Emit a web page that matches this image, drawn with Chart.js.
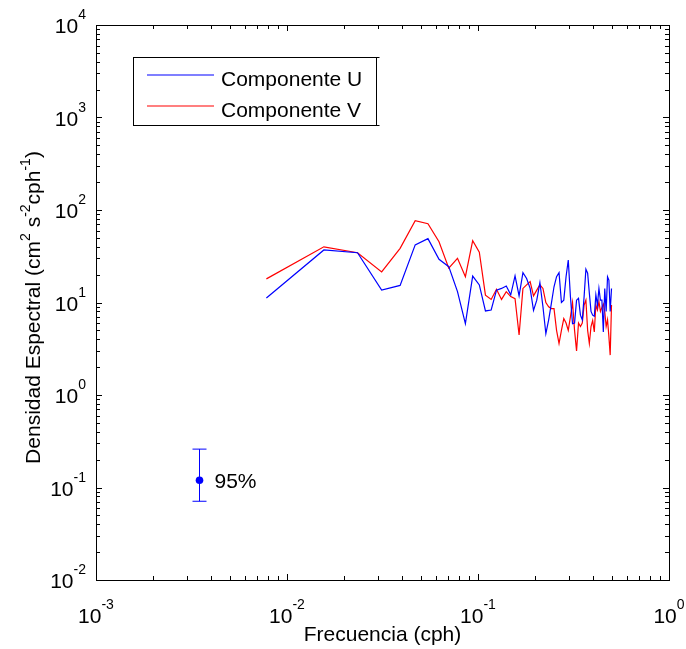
<!DOCTYPE html>
<html>
<head>
<meta charset="utf-8">
<script src="https://cdn.jsdelivr.net/npm/chart.js@4.4.0/dist/chart.umd.min.js"></script>
<style>
  body { margin: 0; background: #fff; }
  #wrap { width: 686px; height: 649px; }
</style>
</head>
<body>
<div id="wrap"><canvas id="spectrum"></canvas></div>
<script>
// frequencies (cph) and spectral density
const freq = [0.0078, 0.0156, 0.0234, 0.0313, 0.0391, 0.0469, 0.0547, 0.0625, 0.0703, 0.0781,
              0.0859, 0.0938, 0.1016, 0.1094, 0.1172, 0.125, 0.1328, 0.1406, 0.1484, 0.1563,
              0.1641, 0.1719, 0.1797, 0.1875, 0.1953, 0.2031, 0.2109, 0.2188, 0.2266, 0.2344,
              0.2422, 0.25, 0.2578, 0.2656, 0.2734, 0.2813, 0.2891, 0.2969, 0.3047, 0.3125,
              0.3203, 0.3281, 0.3359, 0.3438, 0.3516, 0.3594, 0.3672, 0.375, 0.3828, 0.3906,
              0.3984, 0.4063, 0.4141, 0.4219, 0.4297, 0.4375, 0.4453, 0.4531, 0.4609, 0.4688,
              0.4766, 0.4844, 0.4922, 0.5];
const compU = [11.2, 37, 34.5, 13.6, 15.3, 42, 49, 29.3, 24.4, 13.1,
               5.9, 19.3, 15.5, 8.1, 8.3, 13.6, 14.2, 15.1, 12.1, 19.4,
               11.8, 21, 18.2, 14.2, 8.2, 10.6, 16.4, 9.0, 4.6, 6.5,
               9.8, 14.8, 19, 21, 10, 10.6, 19, 28.8, 11.6, 5.9,
               6.0, 10.6, 11.1, 7.3, 6.5, 11.6, 22.9, 20.7, 12.6, 8.0,
               7.3, 7.1, 12.1, 9.4, 14.2, 10.6, 10.6, 4.8, 14.2, 8.0,
               19, 17.5, 8.0, 14.2];
const compV = [18, 40, 34.5, 21.4, 38.5, 76.5, 71, 45.4, 23.5, 30,
               19, 46.6, 34.9, 12, 10.8, 13.9, 10.8, 13.1, 11.6, 11,
               4.45, 14.2, 15.5, 16.8, 11.8, 13.6, 15.5, 14.2, 10, 9.0,
               8.6, 8.6, 5.0, 3.6, 5.0, 6.7, 6.0, 5.0, 7.0, 10,
               5.0, 3.0, 6.0, 5.5, 6, 9.4, 10.6, 5.0, 3.6, 5.5,
               6.4, 4.8, 9.4, 8.3, 10.2, 8.0, 8.8, 9.6, 8.0, 5.5,
               6.5, 4.3, 2.7, 9.4];

// 95% confidence bar
const ciFreq = [0.00347];
const ciMid = [0.12];
const ciLow = [0.071];
const ciHigh = [0.26];
const ciLabel = '95%';

const xDecades = [-3, -2, -1, 0];
const yDecades = [-2, -1, 0, 1, 2, 3, 4];
const seriesNames = ['Componente U', 'Componente V'];
const xTitle = 'Frecuencia (cph)';
const yTitle = [['Densidad Espectral (cm', 0], ['2', 1], [' s', 0], ['-2', 1], ['cph', 0], ['-1', 1], [')', 0]];

const FONT = 'Arial, "Liberation Sans", sans-serif';
const BLUE = '#0000ff';
const RED = '#ff0000';

function pts(ys) {
    return freq.map(function(f, i) { return {x: f, y: ys[i]}; });
}

// "10" with a raised exponent
function drawPower(ctx, exp, x, y, align) {
    ctx.font = '21px ' + FONT;
    const wb = ctx.measureText('10').width;
    ctx.font = '14px ' + FONT;
    const we = ctx.measureText(String(exp)).width;
    const x0 = align === 'right' ? x - wb - we : x - (wb + we) / 2;
    ctx.textAlign = 'left';
    ctx.textBaseline = 'alphabetic';
    ctx.font = '21px ' + FONT;
    ctx.fillText('10', x0, y);
    ctx.font = '14px ' + FONT;
    ctx.fillText(String(exp), x0 + wb, y - 14);
}

// text with superscript parts, centred on x
function drawRich(ctx, parts, x, y) {
    let w = 0;
    parts.forEach(function(p) {
        ctx.font = (p[1] ? '14px ' : '21px ') + FONT;
        w += ctx.measureText(p[0]).width;
    });
    let cx = x - w / 2;
    ctx.textAlign = 'left';
    ctx.textBaseline = 'alphabetic';
    parts.forEach(function(p) {
        ctx.font = (p[1] ? '14px ' : '21px ') + FONT;
        ctx.fillText(p[0], cx, p[1] ? y - 10 : y);
        cx += ctx.measureText(p[0]).width;
    });
}

const matlabAxes = {
    id: 'matlabAxes',
    afterDatasetsDraw(chart) {
        const ctx = chart.ctx, a = chart.chartArea;
        const xs = chart.scales.x, ys = chart.scales.y;
        ctx.save();
        ctx.strokeStyle = '#000';
        ctx.fillStyle = '#000';
        ctx.lineWidth = 1;

        // inward ticks on all four sides
        ctx.beginPath();
        xDecades.forEach(function(d) {
            for (let m = 1; m < 10; m++) {
                if (d === 0 && m > 1) break;
                const px = Math.round(xs.getPixelForValue(m * Math.pow(10, d))) + 0.5;
                const len = m === 1 ? 6 : 4;
                ctx.moveTo(px, a.bottom); ctx.lineTo(px, a.bottom - len);
                ctx.moveTo(px, a.top); ctx.lineTo(px, a.top + len);
            }
        });
        yDecades.forEach(function(d) {
            for (let m = 1; m < 10; m++) {
                if (d === 4 && m > 1) break;
                const py = Math.round(ys.getPixelForValue(m * Math.pow(10, d))) + 0.5;
                const len = m === 1 ? 6 : 4;
                ctx.moveTo(a.left, py); ctx.lineTo(a.left + len, py);
                ctx.moveTo(a.right, py); ctx.lineTo(a.right - len, py);
            }
        });
        ctx.stroke();

        // box
        ctx.strokeRect(Math.round(a.left) + 0.5, Math.round(a.top) + 0.5,
                       Math.round(a.right - a.left), Math.round(a.bottom - a.top));

        // tick labels
        xDecades.forEach(function(d) {
            drawPower(ctx, d, xs.getPixelForValue(Math.pow(10, d)), a.bottom + 43, 'center');
        });
        yDecades.forEach(function(d) {
            drawPower(ctx, d, a.left - 10, ys.getPixelForValue(Math.pow(10, d)) + 8, 'right');
        });

        // axis titles
        ctx.font = '21px ' + FONT;
        ctx.textAlign = 'center';
        ctx.fillText(xTitle, (a.left + a.right) / 2, a.bottom + 61);
        ctx.save();
        ctx.translate(40, (a.top + a.bottom) / 2 + 5);
        ctx.rotate(-Math.PI / 2);
        drawRich(ctx, yTitle, 0, 0);
        ctx.restore();

        // confidence bar
        const ex = Math.round(xs.getPixelForValue(ciFreq[0])) + 0.5;
        const eTop = ys.getPixelForValue(ciHigh[0]);
        const eBot = ys.getPixelForValue(ciLow[0]);
        const eMid = ys.getPixelForValue(ciMid[0]);
        ctx.strokeStyle = BLUE;
        ctx.beginPath();
        ctx.moveTo(ex, eTop); ctx.lineTo(ex, eBot);
        ctx.moveTo(ex - 7, eTop); ctx.lineTo(ex + 7, eTop);
        ctx.moveTo(ex - 7, eBot); ctx.lineTo(ex + 7, eBot);
        ctx.stroke();
        ctx.fillStyle = BLUE;
        ctx.beginPath();
        ctx.arc(ex, eMid, 3.8, 0, Math.PI * 2);
        ctx.fill();
        ctx.fillStyle = '#000';
        ctx.font = '21px ' + FONT;
        ctx.textAlign = 'left';
        ctx.fillText(ciLabel, ex + 15, eMid + 8);

        // legend box
        const lx = 133.5, ly = 57.5, lw = 243, lh = 68;
        ctx.fillStyle = '#fff';
        ctx.fillRect(lx, ly, lw, lh);
        ctx.strokeStyle = '#000';
        ctx.strokeRect(lx, ly, lw, lh);
        ctx.beginPath();
        ctx.moveTo(lx + lw, ly); ctx.lineTo(lx + lw + 3, ly);
        ctx.moveTo(lx + lw, ly + lh); ctx.lineTo(lx + lw + 3, ly + lh);
        ctx.stroke();
        [BLUE, RED].forEach(function(c, i) {
            const rowY = 75 + i * 31;
            ctx.strokeStyle = c;
            ctx.lineWidth = 1.2;
            ctx.beginPath();
            ctx.moveTo(147, rowY); ctx.lineTo(214, rowY);
            ctx.stroke();
            ctx.fillStyle = '#000';
            ctx.font = '21px ' + FONT;
            ctx.fillText(seriesNames[i], 221, rowY + 10.5);
        });
        ctx.restore();
    }
};

new Chart(document.getElementById('spectrum'), {
    type: 'line',
    data: {
        datasets: [
            {
                label: seriesNames[0],
                data: pts(compU),
                borderColor: BLUE,
                borderWidth: 1.2,
                pointRadius: 0,
                tension: 0,
                fill: false
            },
            {
                label: seriesNames[1],
                data: pts(compV),
                borderColor: RED,
                borderWidth: 1.2,
                pointRadius: 0,
                tension: 0,
                fill: false
            }
        ]
    },
    options: {
        responsive: true,
        maintainAspectRatio: false,
        animation: false,
        layout: { padding: { left: 96, right: 17, top: 25, bottom: 69 } },
        plugins: { legend: { display: false }, tooltip: { enabled: false } },
        scales: {
            x: { type: 'logarithmic', min: 0.001, max: 1, display: false },
            y: { type: 'logarithmic', min: 0.01, max: 10000, display: false }
        }
    },
    plugins: [matlabAxes]
});
</script>
</body>
</html>
